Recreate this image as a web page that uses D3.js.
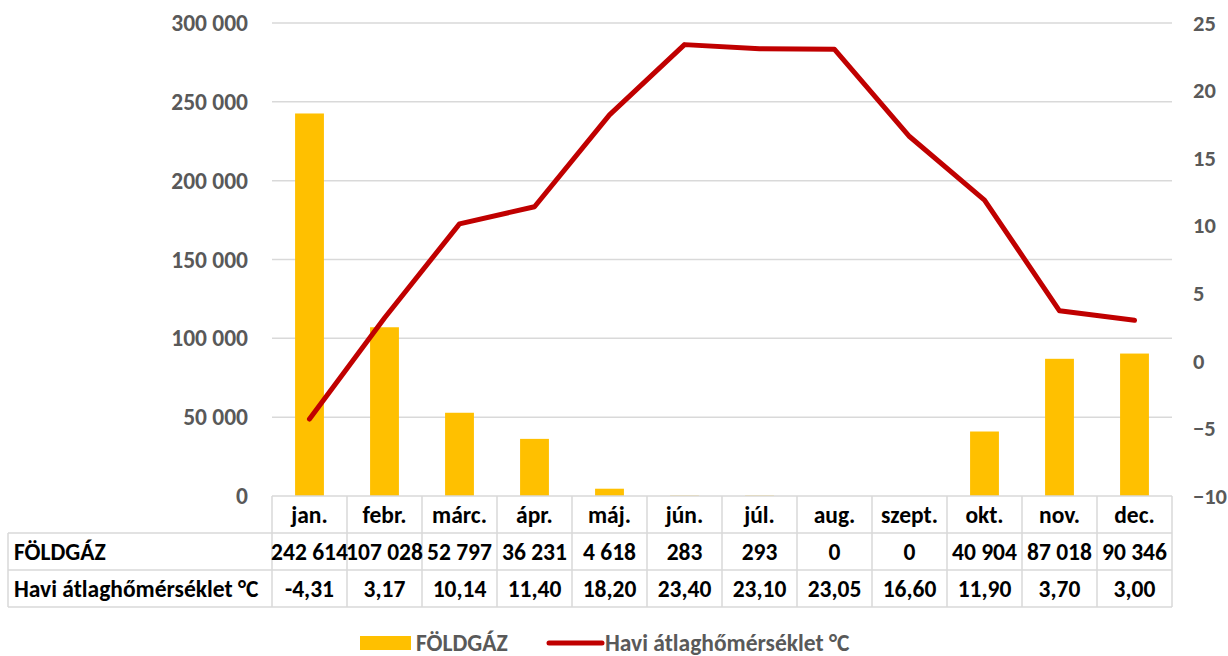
<!DOCTYPE html>
<html>
<head>
<meta charset="utf-8">
<script src="https://cdn.jsdelivr.net/npm/d3@7"></script>
<style>
  body { margin: 0; background: #fff; }
  text { font-family: Calibri, Carlito, "Open Sans", sans-serif; font-weight: bold; }
</style>
</head>
<body>
<div id="chart"></div>
<script>
// chart data
var months = ["jan.", "febr.", "márc.", "ápr.", "máj.", "jún.", "júl.", "aug.", "szept.", "okt.", "nov.", "dec."];
var gas = [242614, 107028, 52797, 36231, 4618, 283, 293, 0, 0, 40904, 87018, 90346];
var temp = [-4.31, 3.17, 10.14, 11.40, 18.20, 23.40, 23.10, 23.05, 16.60, 11.90, 3.70, 3.00];
var gasLabels = ["242 614", "107 028", "52 797", "36 231", "4 618", "283", "293", "0", "0", "40 904", "87 018", "90 346"];
var tempLabels = ["-4,31", "3,17", "10,14", "11,40", "18,20", "23,40", "23,10", "23,05", "16,60", "11,90", "3,70", "3,00"];
var leftTicks = [0, 50000, 100000, 150000, 200000, 250000, 300000];
var rightTicks = [-10, -5, 0, 5, 10, 15, 20, 25];
var seriesNames = ["FÖLDGÁZ", "Havi átlaghőmérséklet °C"];

var svgWidth = 1228;
var svgHeight = 656;

var margin = { top: 23, right: 56, bottom: 160, left: 272 };
var width = svgWidth - margin.left - margin.right;
var height = svgHeight - margin.top - margin.bottom;

var gasColor = "#ffc000";
var lineColor = "#c00000";
var gridColor = "#d9d9d9";
var axisText = "#595959";
var fontSize = "23.5px";

var svg = d3.select("#chart")
  .append("svg")
  .attr("width", svgWidth)
  .attr("height", svgHeight);

var chartGroup = svg.append("g")
  .attr("transform", `translate(${margin.left}, ${margin.top})`);

// scales
var xBand = d3.scaleBand().domain(months).range([0, width]);

var yLeft = d3.scaleLinear().domain([0, 300000]).range([height, 0]);
var yRight = d3.scaleLinear().domain([-10, 25]).range([height, 0]);

// gridlines
chartGroup.append("g")
  .selectAll("line")
  .data(leftTicks.slice(1))
  .enter()
  .append("line")
  .attr("x1", 0)
  .attr("x2", width)
  .attr("y1", d => yLeft(d))
  .attr("y2", d => yLeft(d))
  .attr("stroke", gridColor)
  .attr("stroke-width", 1.5);

// left axis
var leftAxis = d3.axisLeft(yLeft)
  .tickValues(leftTicks)
  .tickSize(0)
  .tickPadding(24)
  .tickFormat(d => d3.format(",")(d).replace(/,/g, " "));

chartGroup.append("g")
  .call(leftAxis)
  .call(g => g.select(".domain").remove())
  .selectAll("text")
  .attr("fill", axisText)
  .attr("font-size", fontSize)
  .attr("font-family", "Calibri, Carlito, 'Open Sans', sans-serif");

// right axis
var rightAxis = d3.axisRight(yRight)
  .tickValues(rightTicks)
  .tickSize(0)
  .tickPadding(21);

chartGroup.append("g")
  .attr("transform", `translate(${width}, 0)`)
  .call(rightAxis)
  .call(g => g.select(".domain").remove())
  .selectAll("text")
  .attr("fill", axisText)
  .attr("font-size", "22.5px")
  .attr("font-family", "Calibri, Carlito, 'Open Sans', sans-serif");

// bars
var barW = xBand.bandwidth() / 2.6;
chartGroup.selectAll(".bar")
  .data(gas)
  .enter()
  .append("rect")
  .attr("class", "bar")
  .attr("x", (d, i) => xBand(months[i]) + (xBand.bandwidth() - barW) / 2)
  .attr("width", barW)
  .attr("y", d => yLeft(d))
  .attr("height", d => height - yLeft(d))
  .attr("fill", gasColor);

// temperature line
var line = d3.line()
  .x((d, i) => xBand(months[i]) + xBand.bandwidth() / 2)
  .y(d => yRight(d));

chartGroup.append("path")
  .datum(temp)
  .attr("d", line)
  .attr("fill", "none")
  .attr("stroke", lineColor)
  .attr("stroke-width", 5)
  .attr("stroke-linejoin", "round")
  .attr("stroke-linecap", "round");

// data table
var rowH = 37;
var tableLeft = 8;
var tableTop = height;
var tableGroup = chartGroup.append("g");
var borderColor = "#d9d9d9";

// horizontal lines
tableGroup.append("line")
  .attr("x1", 0).attr("x2", width)
  .attr("y1", tableTop).attr("y2", tableTop)
  .attr("stroke", borderColor).attr("stroke-width", 1.5);
[1, 2, 3].forEach(function(r) {
  tableGroup.append("line")
    .attr("x1", tableLeft - margin.left).attr("x2", width)
    .attr("y1", tableTop + r * rowH).attr("y2", tableTop + r * rowH)
    .attr("stroke", borderColor).attr("stroke-width", 1.5);
});

// vertical lines
tableGroup.selectAll(".vline")
  .data(months.concat(["end"]))
  .enter()
  .append("line")
  .attr("x1", (d, i) => i < months.length ? xBand(d) : width)
  .attr("x2", (d, i) => i < months.length ? xBand(d) : width)
  .attr("y1", tableTop)
  .attr("y2", tableTop + 3 * rowH)
  .attr("stroke", borderColor).attr("stroke-width", 1.5);

tableGroup.append("line")
  .attr("x1", tableLeft - margin.left).attr("x2", tableLeft - margin.left)
  .attr("y1", tableTop + rowH).attr("y2", tableTop + 3 * rowH)
  .attr("stroke", borderColor).attr("stroke-width", 1.5);

// table text
var rows = [months, gasLabels, tempLabels];
rows.forEach(function(row, r) {
  tableGroup.selectAll(".row" + r)
    .data(row)
    .enter()
    .append("text")
    .attr("x", (d, i) => xBand(months[i]) + xBand.bandwidth() / 2)
    .attr("y", tableTop + r * rowH + rowH / 2)
    .attr("dy", "0.35em")
    .attr("text-anchor", "middle")
    .attr("font-size", fontSize)
    .attr("fill", "#000")
    .text(d => d);
});

seriesNames.forEach(function(name, r) {
  tableGroup.append("text")
    .attr("x", tableLeft - margin.left + 6)
    .attr("y", tableTop + (r + 1) * rowH + rowH / 2)
    .attr("dy", "0.35em")
    .attr("font-size", fontSize)
    .attr("fill", "#000")
    .text(name);
});

// legend
var legend = svg.append("g").attr("transform", "translate(0, 643)");

legend.append("rect")
  .attr("x", 360).attr("y", -7)
  .attr("width", 51).attr("height", 14)
  .attr("fill", gasColor);
legend.append("text")
  .attr("x", 416).attr("y", 0).attr("dy", "0.33em")
  .attr("font-size", fontSize).attr("fill", axisText)
  .text(seriesNames[0]);

legend.append("line")
  .attr("x1", 549).attr("x2", 602)
  .attr("y1", 0).attr("y2", 0)
  .attr("stroke", lineColor).attr("stroke-width", 5)
  .attr("stroke-linecap", "round");
legend.append("text")
  .attr("x", 605).attr("y", 0).attr("dy", "0.33em")
  .attr("font-size", fontSize).attr("fill", axisText)
  .text(seriesNames[1]);
</script>
</body>
</html>
